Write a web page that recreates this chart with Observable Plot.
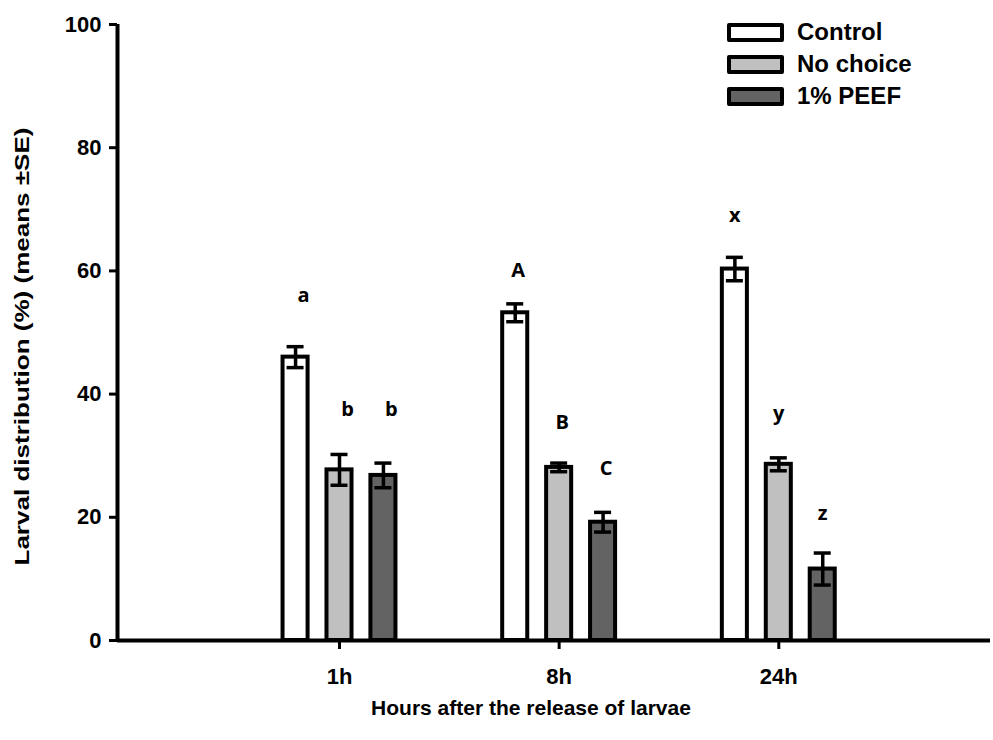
<!DOCTYPE html>
<html>
<head>
<meta charset="utf-8">
<script src="https://cdn.jsdelivr.net/npm/d3@7"></script>
<script src="https://cdn.jsdelivr.net/npm/@observablehq/plot@0.6"></script>
<style>
  html, body { margin: 0; padding: 0; background: #fff; }
  #wrap { position: relative; width: 993px; height: 740px; font-family: "Liberation Sans", Arial, sans-serif; font-weight: bold; }
  #legend { position: absolute; left: 727px; top: 16px; }
  .row { display: flex; align-items: center; height: 32px; }
  .sw { box-sizing: border-box; width: 57px; height: 19px; border: 4px solid #000; border-radius: 2px; margin-right: 13px; }
  .lab { font-size: 24px; line-height: 24px; color: #000; }
</style>
</head>
<body>
<div id="wrap"><div id="legend"></div></div>
<script>
const times = ["1h", "8h", "24h"];
const treatments = ["Control", "No choice", "1% PEEF"];
const fills = ["#ffffff", "#c0c0c0", "#636363"];
const controlMean = [46.0, 53.2, 60.3];
const controlSE = [1.7, 1.45, 1.9];
const noChoiceMean = [27.7, 28.1, 28.6];
const noChoiceSE = [2.5, 0.7, 1.05];
const peefMean = [26.8, 19.2, 11.6];
const peefSE = [2.0, 1.6, 2.6];
const letters = [["a", "b", "b"], ["A", "B", "C"], ["x", "y", "z"]];
const letterHeights = [[56.0, 37.5, 37.5], [60.0, 35.4, 27.9], [69.0, 36.9, 20.6]];
const yTicks = [0, 20, 40, 60, 80, 100];
const xTitle = "Hours after the release of larvae";
const yTitle = "Larval distribution (%) (means \u00b1SE)";

// layout constants (group index units)
const xDomain = [-1.0107, 2.9638];
const slot = 0.2;
const barHalf = 0.057;
const capHalf = 0.0387;
const letterDx = [8, 3, 0];

const means = [controlMean, noChoiceMean, peefMean];
const ses = [controlSE, noChoiceSE, peefSE];
const rows = [];
times.forEach((t, i) => {
  treatments.forEach((tr, j) => {
    rows.push({
      time: t, gi: i, treatment: tr, fill: fills[j],
      mean: means[j][i], se: ses[j][i],
      letter: letters[i][j], ly: letterHeights[i][j],
      pos: i + (j - 1) * slot
    });
  });
});

const chart = Plot.plot({
  width: 993, height: 740,
  marginLeft: 117, marginRight: 3, marginTop: 24, marginBottom: 100,
  x: {domain: xDomain},
  y: {domain: [0, 100]},
  color: {type: "identity"},
  style: {fontFamily: "Liberation Sans, Arial, sans-serif", fontWeight: "bold", color: "#000", background: "#fff"},
  marks: [
    Plot.axisY({ticks: yTicks, tickSize: 8, tickPadding: 8, fontSize: 22, fontWeight: "bold", strokeWidth: 3, label: null}),
    Plot.axisX({ticks: [0, 1, 2], tickFormat: i => times[i], tickSize: 9, tickPadding: 19, fontSize: 22, fontWeight: "bold", strokeWidth: 3, label: null}),
    Plot.rectY(rows, {x1: d => d.pos - barHalf, x2: d => d.pos + barHalf, y1: 0, y2: "mean", fill: "fill", stroke: "#000", strokeWidth: 4}),
    Plot.ruleX(rows, {x: "pos", y1: d => d.mean - d.se, y2: d => d.mean + d.se, stroke: "#000", strokeWidth: 3.5}),
    Plot.ruleY(rows, {y: d => d.mean + d.se, x1: d => d.pos - capHalf, x2: d => d.pos + capHalf, stroke: "#000", strokeWidth: 3.5}),
    Plot.ruleY(rows, {y: d => d.mean - d.se, x1: d => d.pos - capHalf, x2: d => d.pos + capHalf, stroke: "#000", strokeWidth: 3.5}),
    Plot.ruleY([0], {stroke: "#000", strokeWidth: 4}),
    Plot.ruleX([xDomain[0]], {y1: 0, y2: 100, stroke: "#000", strokeWidth: 4}),
    ...times.map((t, i) => Plot.text(rows.filter(d => d.gi === i), {
      x: "pos", y: "ly", text: "letter", dx: letterDx[i],
      fontFamily: "Open Sans, sans-serif", fontSize: 20, fontWeight: "bold", fill: "#000"
    })),
    Plot.text([xTitle], {frameAnchor: "bottom", dy: 68, dx: -23, lineAnchor: "middle", fontSize: 21, fontWeight: "bold", fill: "#000"}),
    Plot.text([yTitle], {frameAnchor: "left", textAnchor: "middle", lineAnchor: "middle", rotate: -90, dx: -95, dy: 14, fontSize: 20, fontWeight: "bold", fill: "#000", className: "ytitle"})
  ]
});

const wrap = document.getElementById("wrap");
wrap.insertBefore(chart, wrap.firstChild);

// stretch the y title to the reference's length
chart.querySelectorAll(".ytitle text").forEach(t => {
  t.setAttribute("textLength", "438");
  t.setAttribute("lengthAdjust", "spacingAndGlyphs");
});

const legend = document.getElementById("legend");
treatments.forEach((tr, j) => {
  const row = document.createElement("div");
  row.className = "row";
  const sw = document.createElement("div");
  sw.className = "sw";
  sw.style.background = fills[j];
  const lab = document.createElement("span");
  lab.className = "lab";
  lab.textContent = tr;
  row.appendChild(sw);
  row.appendChild(lab);
  legend.appendChild(row);
});
</script>
</body>
</html>
